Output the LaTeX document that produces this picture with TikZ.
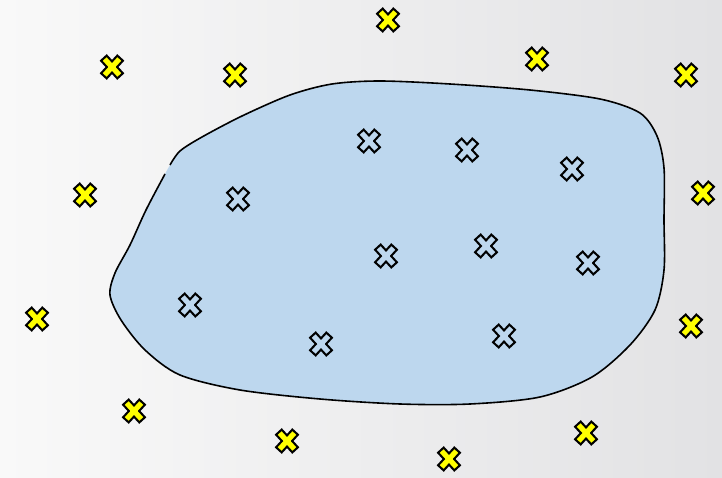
\documentclass[tikz,border=0pt]{standalone}
\usepackage{tikz}
\usetikzlibrary{calc}
\definecolor{bgleft}{RGB}{249,249,249}
\definecolor{bgright}{RGB}{226,226,228}
\definecolor{regionblue}{RGB}{189,215,238}
\definecolor{markyellow}{RGB}{255,255,0}
\tikzstyle{markedge} = [line width=9.6pt,black]
\tikzstyle{markface} = [line width=5.2pt,shorten <=2.2pt,shorten >=2.2pt]
% one X mark: centre x, centre y, face colour
\newcommand{\xmark}[3]{%
  \draw[markedge] (#1-8.8,#2-9.6) -- (#1+8.8,#2+9.6);
  \draw[markedge] (#1-8.8,#2+9.6) -- (#1+8.8,#2-9.6);
  \draw[markface,#3] (#1-8.8,#2-9.6) -- (#1+8.8,#2+9.6);
  \draw[markface,#3] (#1-8.8,#2+9.6) -- (#1+8.8,#2-9.6);
}
\begin{document}
\begin{tikzpicture}[x=1pt,y=-1pt]

% Background
\useasboundingbox (0,0) rectangle (722,478);
\shade[left color=bgleft, right color=bgright] (0,0) rectangle (722,478);

% Region
\fill[regionblue] plot[smooth cycle] coordinates {
  (170,165) (180,151) (202,137) (242,116) (290,95) (332,84) (380,81)
  (450,84) (530,90) (600,99) (640,113) (657,136) (664,168) (664,220)
  (664,270) (655,310) (630,345) (592,377) (540,397) (470,404) (400,404)
  (320,399) (240,390) (180,375) (145,350) (121,320) (110,295) (115,273)
  (130,245) (146,210) (164,176)};
\draw[line width=1.6pt] plot[smooth] coordinates {
  (170,165) (180,151) (202,137) (242,116) (290,95) (332,84) (380,81)
  (450,84) (530,90) (600,99) (640,113) (657,136) (664,168) (664,220)
  (664,270) (655,310) (630,345) (592,377) (540,397) (470,404) (400,404)
  (320,399) (240,390) (180,375) (145,350) (121,320) (110,295) (115,273)
  (130,245) (146,210) (165,174)};

% Outside points
\foreach \px/\py in {112/67, 235/75, 388/20, 537/59, 686/75, 85/195, 703/193,
  37/319, 691/326, 134/411, 287/441, 449/459, 586/433}
  {\xmark{\px}{\py}{markyellow}}

% Inside points
\foreach \px/\py in {369/141, 467/150, 572/169, 238/199, 386/256, 486/246,
  588/263, 190/305, 321/344, 504/336}
  {\xmark{\px}{\py}{regionblue}}

\end{tikzpicture}
\end{document}
